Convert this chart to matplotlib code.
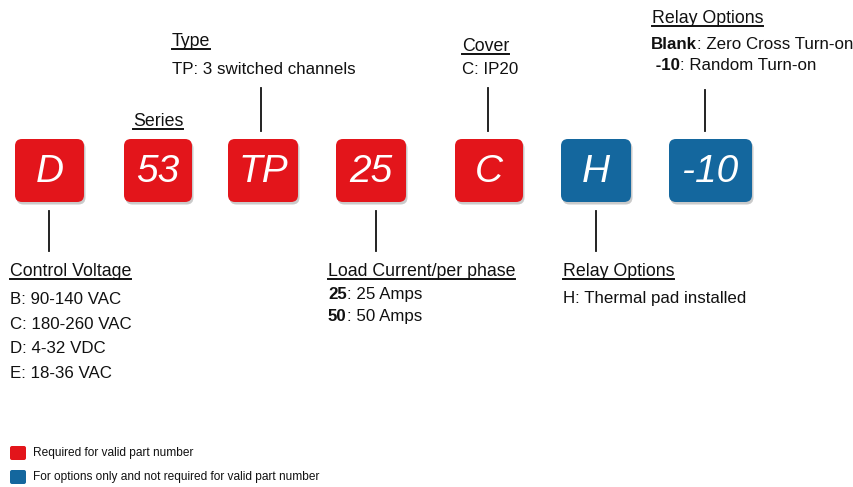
import matplotlib
matplotlib.use("Agg")
import matplotlib.pyplot as plt
from matplotlib.patches import FancyBboxPatch
from matplotlib import font_manager

# ---- data ----
codes = ["D", "53", "TP", "25", "C", "H", "-10"]
code_kind = ["req", "req", "req", "req", "req", "opt", "opt"]

series_title = "Series"
type_title = "Type"
type_lines = [("", "TP: 3 switched channels")]
cover_title = "Cover"
cover_lines = [("", "C: IP20")]
relay_top_title = "Relay Options"
relay_top_lines = [("Blank", ": Zero Cross Turn-on"), (" -10", ": Random Turn-on")]
control_title = "Control Voltage"
control_lines = [("", "B: 90-140 VAC"), ("", "C: 180-260 VAC"), ("", "D: 4-32 VDC"), ("", "E: 18-36 VAC")]
load_title = "Load Current/per phase"
load_lines = [("25", ": 25 Amps"), ("50", ": 50 Amps")]
relay_bot_title = "Relay Options"
relay_bot_lines = [("", "H: Thermal pad installed")]
legend_labels = ["Required for valid part number",
                 "For options only and not required for valid part number"]

RED = "#e3151b"
BLUE = "#14679e"
kind_color = {"req": RED, "opt": BLUE}

names = {f.name for f in font_manager.fontManager.ttflist}
FONT = ["Liberation Sans Narrow"] if "Liberation Sans Narrow" in names else ["Liberation Sans"]
FONT = FONT + ["DejaVu Sans"]

W, H = 854, 487
fig = plt.figure(figsize=(W / 100, H / 100), dpi=100)
ax = fig.add_axes([0, 0, 1, 1])
ax.set_xlim(0, W)
ax.set_ylim(H, 0)
ax.axis("off")

# ---- boxes ----
box_x = [15, 124, 228, 336, 455, 561, 669]
box_w = [69, 68, 70, 70, 68, 70, 83]
box_y, box_h = 139, 63
for code, kind, x0, w in zip(codes, code_kind, box_x, box_w):
    sh = FancyBboxPatch((x0 + 1.5, box_y + 2.5), w, box_h,
                        boxstyle="round,pad=0,rounding_size=7",
                        fc="#8a8a8a", ec="none", alpha=0.45, zorder=1)
    ax.add_patch(sh)
    p = FancyBboxPatch((x0, box_y), w, box_h,
                       boxstyle="round,pad=0,rounding_size=7",
                       fc=kind_color[kind], ec="none", zorder=2)
    ax.add_patch(p)
    ax.text(x0 + w / 2, box_y + box_h / 2 + 1, code, color="white",
            fontsize=28, style="italic", family=FONT,
            ha="center", va="center", zorder=3)

HFS = 12.8
FS = 12.2
fig.canvas.draw()
renderer = fig.canvas.get_renderer()


def width_px(t):
    return t.get_window_extent(renderer).width


def heading(x, y, s, fs=HFS):
    t = ax.text(x, y, s, fontsize=fs, family=FONT, ha="left", va="baseline",
                color="#111111")
    w = width_px(t)
    ax.plot([x, x + w], [y + 3, y + 3], color="#111111", lw=1.4)


def entry(x, y, parts, fs=FS):
    bold_s, rest = parts
    w = 0
    if bold_s:
        t = ax.text(x, y, bold_s, fontsize=fs, family=FONT, ha="left",
                    va="baseline", color="#111111", fontweight="bold")
        w = width_px(t)
    ax.text(x + w, y, rest, fontsize=fs, family=FONT, ha="left", va="baseline",
            color="#111111")


LC = "#111111"
# Series
heading(133, 126, series_title)
# Type
heading(172, 46, type_title)
for i, p in enumerate(type_lines):
    entry(172, 74 + i * 22, p)
ax.plot([261, 261], [88, 131], color=LC, lw=1.3)
# Cover
heading(462, 51, cover_title)
for i, p in enumerate(cover_lines):
    entry(462, 74 + i * 22, p)
ax.plot([488, 488], [88, 131], color=LC, lw=1.3)
# Relay options (top)
heading(652, 23, relay_top_title)
for i, p in enumerate(relay_top_lines):
    entry(651, 49 + i * 21, p)
ax.plot([705, 705], [90, 131], color=LC, lw=1.3)

# Control voltage
ax.plot([49, 49], [211, 251], color=LC, lw=1.3)
heading(10, 276, control_title)
for i, p in enumerate(control_lines):
    entry(10, 304 + i * 24.7, p)
# Load current
ax.plot([376, 376], [211, 251], color=LC, lw=1.3)
heading(328, 276, load_title)
for i, p in enumerate(load_lines):
    entry(328, 299 + i * 22, p)
# Relay options bottom
ax.plot([596, 596], [211, 251], color=LC, lw=1.3)
heading(563, 276, relay_bot_title)
for i, p in enumerate(relay_bot_lines):
    entry(563, 303 + i * 22, p)

# ---- legend ----
for i, (lab, col) in enumerate(zip(legend_labels, [RED, BLUE])):
    yc = 453 + i * 24
    ax.add_patch(FancyBboxPatch((10, yc - 7), 16, 14,
                                boxstyle="round,pad=0,rounding_size=2",
                                fc=col, ec="none"))
    ax.text(33, yc, lab, fontsize=8.6, family=FONT, ha="left", va="center",
            color="#111111")

fig.savefig("out.png", dpi=100, facecolor="white")
